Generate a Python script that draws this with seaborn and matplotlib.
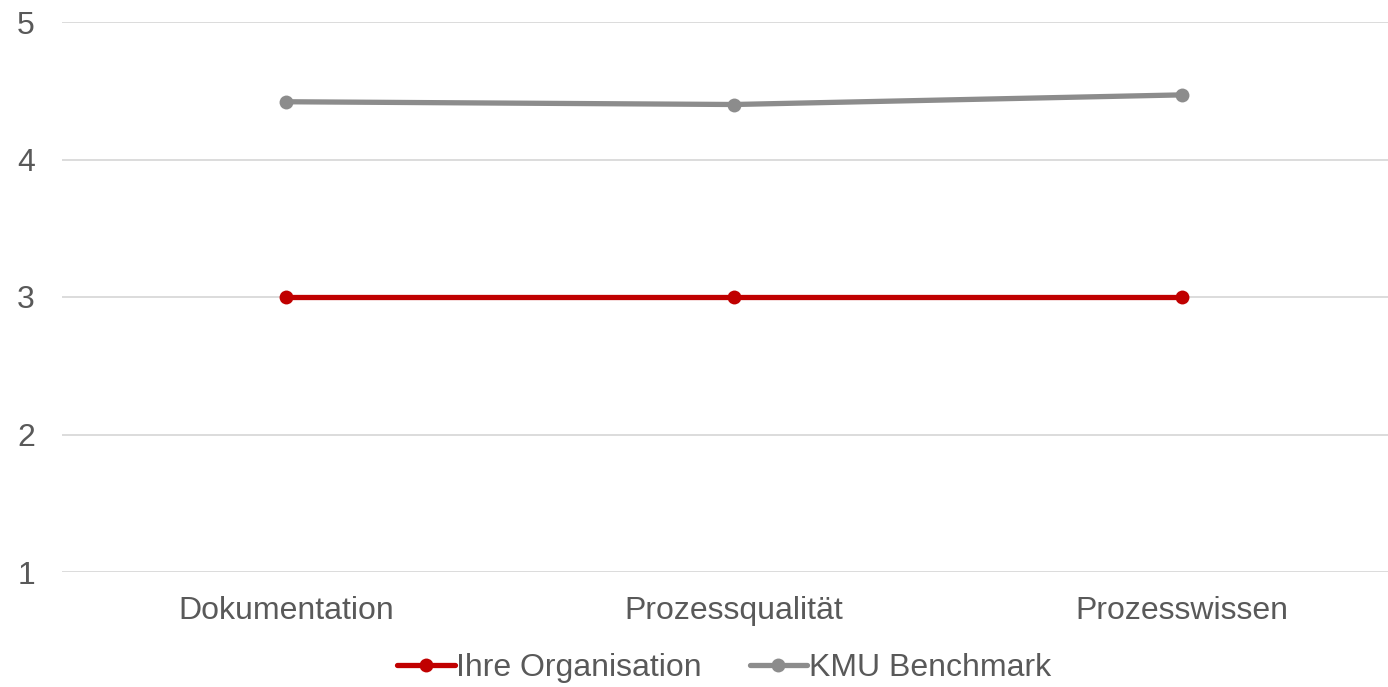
import matplotlib
matplotlib.use("Agg")
import matplotlib.pyplot as plt
import seaborn as sns
import pandas as pd

categories = ["Dokumentation", "Prozessqualität", "Prozesswissen"]
ihre_organisation = [3.0, 3.0, 3.0]
kmu_benchmark = [4.42, 4.40, 4.47]
series_names = ["Ihre Organisation", "KMU Benchmark"]
y_ticks = [1, 2, 3, 4, 5]

sns.set_theme(style="white")
plt.rcParams["font.family"] = ["Liberation Sans", "DejaVu Sans"]

df = pd.DataFrame({
    "Kategorie": categories * 2,
    "pos": list(range(len(categories))) * 2,
    "Wert": ihre_organisation + kmu_benchmark,
    "Serie": [series_names[0]] * len(categories) + [series_names[1]] * len(categories),
})

palette = {series_names[0]: "#C00000", series_names[1]: "#8C8C8C"}
text_color = "#595959"

fig = plt.figure(figsize=(13.88, 6.87), dpi=100)
ax = fig.add_axes([62 / 1388, 1 - 572 / 687, 1 - 62 / 1388, (572 - 22) / 687])

sns.lineplot(data=df, x="pos", y="Wert", hue="Serie", palette=palette,
             marker="o", markersize=10, markeredgewidth=0, linewidth=3.8,
             ax=ax, legend=True)

ax.set_xlim(-0.5, (1388 - 286) / 448)
ax.set_ylim(1, 5)
ax.set_yticks(y_ticks)
ax.set_yticklabels([str(t) for t in y_ticks])
ax.set_xticks(range(len(categories)))
ax.set_xticklabels(categories)
ax.set_xlabel("")
ax.set_ylabel("")
ax.yaxis.grid(True, color="#D9D9D9", linewidth=1.3)
ax.xaxis.grid(False)
ax.set_axisbelow(True)
for s in ax.spines.values():
    s.set_visible(False)
ax.tick_params(axis="both", length=0, labelsize=23, colors=text_color)
ax.tick_params(axis="y", pad=19.5)
ax.tick_params(axis="x", pad=17)

handles, labels = ax.get_legend_handles_labels()
ax.legend(handles, labels, loc="center", bbox_to_anchor=(724 / 1388, 1 - 668 / 687),
          bbox_transform=fig.transFigure, ncol=2, frameon=False,
          fontsize=23, labelcolor=text_color, handlelength=1.8,
          handletextpad=0.05, columnspacing=1.5)

fig.savefig("out.png", dpi=100)
